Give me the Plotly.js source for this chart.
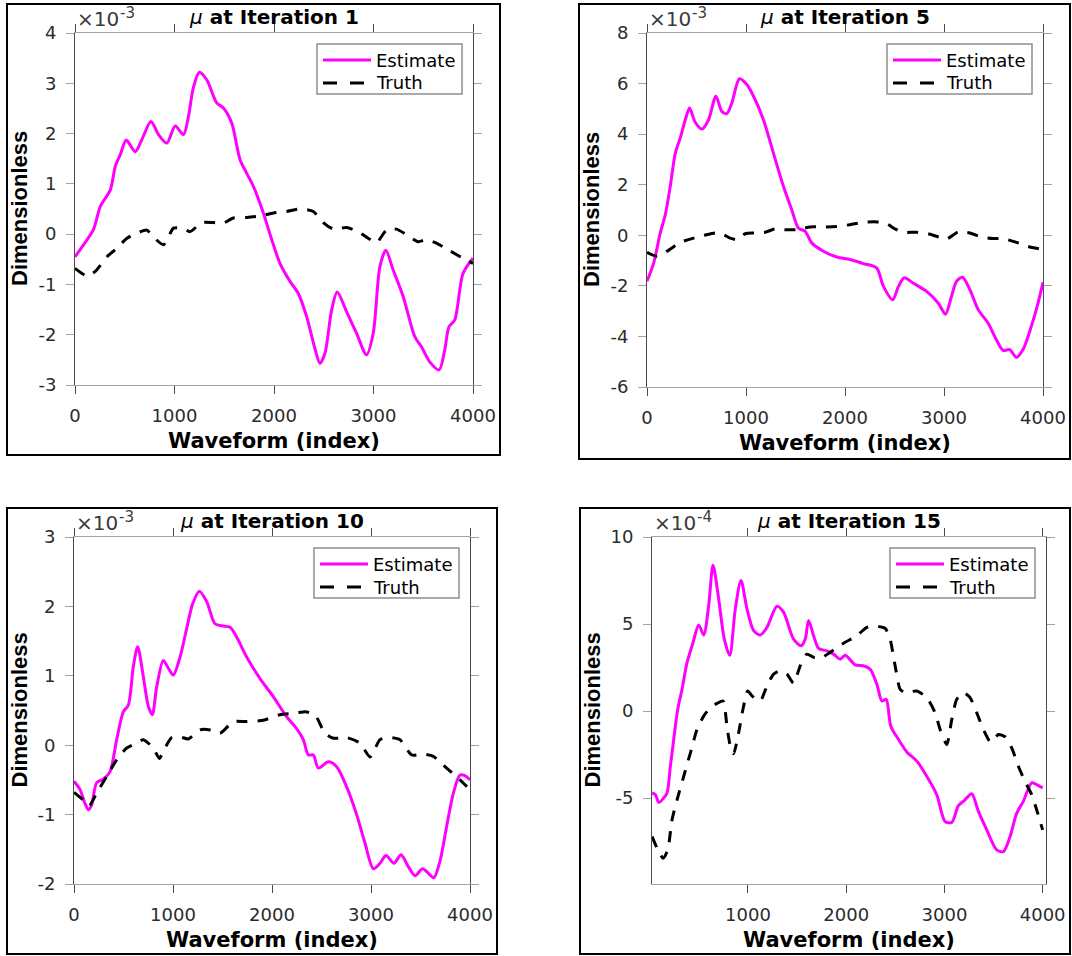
<!DOCTYPE html>
<html>
<head>
<meta charset="utf-8">
<script src="https://cdn.plot.ly/plotly-3.0.1.min.js"></script>
<style>
  html, body { margin: 0; padding: 0; background: #ffffff; }
  #chart { width: 1072px; height: 956px; }
</style>
</head>
<body>
<div id="chart"></div>
<script>
// Waveform index samples and values (values in units of the axis multiplier)
const idxEst1 = [0,87,187,254,355,405,455,515,605,672,763,839,923,1007,1090,1140,1190,1250,1324,1425,1492,1575,1659,1726,1793,1893,1977,2060,2161,2244,2328,2411,2462,2512,2579,2635,2729,2829,2930,2997,3064,3124,3197,3298,3415,3482,3565,3659,3716,3759,3816,3900,4000];
const est1 = [-0.45,-0.21,0.10,0.55,0.88,1.35,1.58,1.87,1.64,1.88,2.24,1.98,1.81,2.15,1.98,2.34,2.92,3.22,3.07,2.61,2.51,2.21,1.48,1.21,0.95,0.42,-0.11,-0.58,-0.94,-1.18,-1.64,-2.27,-2.57,-2.37,-1.51,-1.15,-1.54,-1.97,-2.40,-1.97,-0.65,-0.32,-0.71,-1.24,-2.04,-2.24,-2.54,-2.70,-2.30,-1.84,-1.71,-0.78,-0.48];
const idxTruth1 = [0,120,204,321,421,522,622,722,789,890,990,1074,1157,1274,1391,1492,1592,1726,1860,1993,2127,2261,2395,2495,2595,2729,2846,2946,3030,3130,3231,3331,3448,3532,3632,3766,3900,4000];
const truth1 = [-0.68,-0.83,-0.74,-0.45,-0.28,-0.08,0.02,0.08,-0.06,-0.21,0.12,0.12,0.05,0.23,0.23,0.22,0.32,0.33,0.36,0.42,0.45,0.50,0.45,0.23,0.10,0.13,0.05,-0.08,-0.17,0.08,0.10,-0.01,-0.15,-0.11,-0.18,-0.33,-0.48,-0.58];

const idxEst5 = [0,67,134,185,235,286,336,387,430,487,555,622,696,756,807,857,934,1008,1076,1176,1277,1378,1462,1529,1597,1664,1782,1916,2050,2185,2319,2387,2481,2538,2598,2689,2824,2941,3015,3076,3126,3187,3261,3345,3445,3529,3597,3664,3731,3798,3882,3950,4000];
const est5 = [-1.82,-1.10,0.09,0.82,1.94,3.25,3.85,4.57,5.03,4.47,4.20,4.57,5.50,4.90,4.81,5.23,6.19,5.96,5.50,4.57,3.25,1.94,1.01,0.29,0.16,-0.30,-0.63,-0.86,-0.96,-1.12,-1.29,-2.01,-2.55,-2.04,-1.68,-1.89,-2.22,-2.68,-3.12,-2.41,-1.82,-1.66,-2.15,-2.94,-3.47,-4.13,-4.55,-4.52,-4.83,-4.52,-3.60,-2.68,-1.86];
const idxTruth5 = [0,101,202,336,471,571,689,773,840,908,992,1092,1193,1294,1395,1513,1647,1782,1916,2050,2185,2319,2420,2504,2588,2723,2840,2924,3025,3143,3261,3378,3496,3597,3731,3849,3966];
const truth5 = [-0.67,-0.83,-0.63,-0.28,-0.11,-0.01,0.09,0.02,-0.11,-0.17,0.06,0.09,0.12,0.25,0.22,0.22,0.33,0.33,0.35,0.42,0.51,0.53,0.46,0.25,0.12,0.12,0.06,-0.04,-0.15,0.13,0.09,-0.07,-0.13,-0.13,-0.28,-0.44,-0.54];

const idxEst10 = [0,61,111,145,178,229,296,364,431,498,549,599,643,700,751,791,835,902,953,1003,1071,1138,1199,1266,1340,1424,1492,1576,1643,1744,1879,2013,2148,2232,2316,2367,2418,2468,2569,2653,2754,2855,2939,3024,3091,3152,3232,3303,3377,3444,3522,3596,3636,3697,3764,3832,3899,3949,4000];
const est10 = [-0.52,-0.64,-0.84,-0.93,-0.86,-0.54,-0.49,-0.38,0.08,0.48,0.58,1.13,1.42,0.99,0.56,0.44,0.84,1.22,1.11,1.01,1.27,1.68,2.04,2.22,2.07,1.75,1.72,1.70,1.56,1.27,0.96,0.70,0.41,0.27,0.08,-0.14,-0.14,-0.33,-0.24,-0.31,-0.60,-1.00,-1.41,-1.78,-1.70,-1.59,-1.70,-1.58,-1.75,-1.88,-1.78,-1.87,-1.91,-1.67,-1.17,-0.69,-0.43,-0.44,-0.50];
const idxTruth10 = [0,94,155,229,330,431,532,633,700,801,862,919,987,1071,1155,1273,1374,1475,1609,1744,1912,2081,2215,2350,2434,2535,2620,2754,2889,2990,3091,3192,3293,3411,3529,3630,3764,3899,4000];
const truth10 = [-0.68,-0.79,-0.87,-0.69,-0.45,-0.21,-0.04,0.03,0.08,-0.04,-0.19,-0.04,0.11,0.12,0.09,0.22,0.22,0.17,0.34,0.34,0.36,0.44,0.46,0.48,0.44,0.17,0.10,0.11,0.03,-0.17,0.08,0.11,0.08,-0.14,-0.13,-0.16,-0.33,-0.50,-0.64];

const idxEst15 = [24,58,92,142,176,210,244,285,329,380,441,498,549,600,644,702,759,814,871,929,990,1058,1125,1193,1295,1363,1464,1542,1583,1617,1668,1719,1803,1871,1939,1990,2092,2176,2244,2312,2363,2407,2454,2532,2617,2719,2820,2922,3007,3075,3142,3210,3278,3346,3431,3532,3600,3668,3736,3803,3888,3939,4000];
const est15 = [-4.71,-4.81,-5.25,-5.00,-4.71,-3.17,-1.63,0.10,1.25,2.79,3.94,4.95,4.37,6.06,8.37,6.44,4.13,3.21,5.87,7.50,5.87,4.62,4.37,4.81,6.02,5.67,4.13,3.75,4.13,5.20,4.33,3.60,3.46,3.27,2.98,3.21,2.65,2.60,2.40,1.54,0.58,0.67,-0.87,-1.63,-2.35,-2.88,-3.75,-4.81,-6.35,-6.40,-5.44,-5.10,-4.75,-5.77,-6.83,-7.98,-8.08,-7.21,-5.87,-5.19,-4.13,-4.23,-4.42];
const idxTruth15 = [24,75,136,183,227,278,346,414,481,549,617,685,746,786,820,854,905,949,997,1041,1125,1193,1261,1329,1397,1464,1532,1600,1668,1736,1837,1973,2108,2210,2312,2397,2447,2498,2549,2600,2719,2820,2905,2956,3024,3075,3125,3193,3261,3329,3397,3471,3549,3617,3685,3753,3820,3888,3939,4000];
const truth15 = [-7.21,-7.88,-8.46,-7.98,-6.25,-5.10,-3.75,-2.40,-1.06,-0.29,0.19,0.44,0.58,-0.87,-2.02,-2.45,-1.25,0.10,1.15,0.87,0.58,1.44,2.12,2.31,2.12,1.60,2.60,3.27,3.08,3.02,3.37,3.90,4.33,4.81,4.87,4.75,4.13,2.60,1.25,1.06,1.15,0.77,-0.10,-1.06,-1.92,-0.48,0.67,1.06,0.77,-0.10,-1.06,-1.79,-1.35,-1.48,-2.12,-3.17,-4.04,-4.81,-5.67,-6.83];

// Tick values and labels
const xTicksFull = [0, 1000, 2000, 3000, 4000];
const xTicksNoZero = [1000, 2000, 3000, 4000];
const yTicks1 = [-3, -2, -1, 0, 1, 2, 3, 4];
const yTicks5 = [-6, -4, -2, 0, 2, 4, 6, 8];
const yTicks10 = [-2, -1, 0, 1, 2, 3];
const yTicks15 = [-5, 0, 5, 10];
const iterations = [1, 5, 10, 15];
const exponents = ['-3', '-3', '-3', '-4'];
const seriesNames = ['Estimate', 'Truth'];

const W = 1072, H = 956;
const px = v => v / W;
const py = v => 1 - v / H;
const label = v => String(v);

const panels = [
  { est: [idxEst1, est1], tru: [idxTruth1, truth1], xt: xTicksFull, yt: yTicks1,
    xr: [0, 4000], yr: [-3, 4], plot: [75, 33, 473, 385], frame: [7, 4, 500, 455] },
  { est: [idxEst5, est5], tru: [idxTruth5, truth5], xt: xTicksFull, yt: yTicks5,
    xr: [0, 4000], yr: [-6, 8], plot: [647, 33, 1043, 387], frame: [579, 4, 1070, 459] },
  { est: [idxEst10, est10], tru: [idxTruth10, truth10], xt: xTicksFull, yt: yTicks10,
    xr: [0, 4000], yr: [-2, 3], plot: [74, 537, 470, 884], frame: [7, 508, 497, 954] },
  { est: [idxEst15, est15], tru: [idxTruth15, truth15], xt: xTicksNoZero, yt: yTicks15,
    xr: [23, 4034], yr: [-9.94, 10], plot: [652, 537, 1046, 884], frame: [580, 508, 1070, 954] }
];

const tickFont = { family: 'DejaVu Sans', size: 18, color: '#2b2b2b' };
const data = [];
const layout = {
  width: W, height: H,
  margin: { l: 0, r: 0, t: 0, b: 0 },
  paper_bgcolor: '#ffffff', plot_bgcolor: '#ffffff',
  showlegend: false,
  shapes: [], annotations: []
};

panels.forEach((p, i) => {
  const n = i === 0 ? '' : String(i + 1);
  const [x0, y0, x1, y1] = p.plot;
  const xa = 'x' + n, ya = 'y' + n;

  data.push({
    type: 'scatter', mode: 'lines', name: seriesNames[0],
    x: p.est[0], y: p.est[1], xaxis: xa, yaxis: ya,
    line: { color: '#ff00ff', width: 3, shape: 'spline', smoothing: 0.8 }
  });
  data.push({
    type: 'scatter', mode: 'lines', name: seriesNames[1],
    x: p.tru[0], y: p.tru[1], xaxis: xa, yaxis: ya,
    line: { color: '#000000', width: 3, dash: '11px,10px', shape: 'spline', smoothing: 0.6 }
  });

  layout['xaxis' + n] = {
    domain: [px(x0), px(x1)], anchor: ya, range: p.xr,
    tickmode: 'array', tickvals: p.xt, ticktext: p.xt.map(label),
    showline: true, linecolor: '#a3a3a3', linewidth: 1, mirror: 'ticks',
    ticks: 'outside', ticklen: 8, tickwidth: 1, tickcolor: '#4a4a4a',
    showgrid: false, zeroline: false, tickfont: tickFont, ticklabelstandoff: 6,
    fixedrange: true
  };
  layout['yaxis' + n] = {
    domain: [py(y1), py(y0)], anchor: xa, range: p.yr,
    tickmode: 'array', tickvals: p.yt, ticktext: p.yt.map(label),
    showline: true, linecolor: '#4a4a4a', linewidth: 1, mirror: 'ticks',
    ticks: 'outside', ticklen: 8, tickwidth: 1, tickcolor: '#a3a3a3',
    showgrid: false, zeroline: false, tickfont: tickFont, ticklabelstandoff: 6,
    fixedrange: true
  };

  // panel frame
  const [f0, g0, f1, g1] = p.frame;
  layout.shapes.push({ type: 'rect', xref: 'paper', yref: 'paper',
    x0: px(f0), x1: px(f1), y0: py(g0), y1: py(g1),
    line: { color: '#000000', width: 2 }, layer: 'below' });

  const cx = (x0 + x1) / 2;
  // title
  layout.annotations.push({ xref: 'paper', yref: 'paper', x: px(cx), y: py(y0 - 16),
    xanchor: 'center', yanchor: 'middle', showarrow: false,
    text: '<i>μ</i><b> at Iteration ' + iterations[i] + '</b>',
    font: { family: 'DejaVu Sans', size: 20, color: '#000000' } });
  // axis multiplier: base and exponent
  layout.annotations.push({ xref: 'paper', yref: 'paper', x: px(x0), y: py(y0 - 14),
    xanchor: 'left', yanchor: 'middle', showarrow: false,
    text: '×10',
    font: { family: 'DejaVu Sans', size: 20, color: '#3a3a3a' } });
  layout.annotations.push({ xref: 'paper', yref: 'paper', x: px(x0 + 43), y: py(y0 - 20),
    xanchor: 'left', yanchor: 'middle', showarrow: false,
    text: exponents[i],
    font: { family: 'DejaVu Sans', size: 15, color: '#3a3a3a' } });
  // axis titles
  layout.annotations.push({ xref: 'paper', yref: 'paper', x: px(cx), y: py(y1 + 56),
    xanchor: 'center', yanchor: 'middle', showarrow: false,
    text: '<b>Waveform (index)</b>',
    font: { family: 'DejaVu Sans', size: 21, color: '#000000' } });
  layout.annotations.push({ xref: 'paper', yref: 'paper', x: px(f0 + 12), y: py((y0 + y1) / 2),
    xanchor: 'center', yanchor: 'middle', showarrow: false, textangle: -90,
    text: '<b>Dimensionless</b>',
    font: { family: 'Liberation Sans', size: 22, color: '#000000' } });

  // legend box
  const lx = x1 - 156, ly = y0 + 11;
  layout.shapes.push({ type: 'rect', xref: 'paper', yref: 'paper',
    x0: px(lx), x1: px(lx + 145), y0: py(ly), y1: py(ly + 50),
    line: { color: '#8f8f8f', width: 1.5 }, fillcolor: '#ffffff', layer: 'above' });
  layout.shapes.push({ type: 'line', xref: 'paper', yref: 'paper',
    x0: px(lx + 6), x1: px(lx + 54), y0: py(ly + 16), y1: py(ly + 16),
    line: { color: '#ff00ff', width: 3 }, layer: 'above' });
  layout.shapes.push({ type: 'line', xref: 'paper', yref: 'paper',
    x0: px(lx + 6), x1: px(lx + 48), y0: py(ly + 39), y1: py(ly + 39),
    line: { color: '#000000', width: 3, dash: '14px,13px' }, layer: 'above' });
  layout.annotations.push({ xref: 'paper', yref: 'paper', x: px(lx + 57), y: py(ly + 16),
    xanchor: 'left', yanchor: 'middle', showarrow: false, text: seriesNames[0],
    font: { family: 'DejaVu Sans', size: 18, color: '#000000' } });
  layout.annotations.push({ xref: 'paper', yref: 'paper', x: px(lx + 57), y: py(ly + 39),
    xanchor: 'left', yanchor: 'middle', showarrow: false, text: seriesNames[1],
    font: { family: 'DejaVu Sans', size: 18, color: '#000000' } });
});

Plotly.newPlot('chart', data, layout, { displayModeBar: false, staticPlot: true });
</script>
</body>
</html>
